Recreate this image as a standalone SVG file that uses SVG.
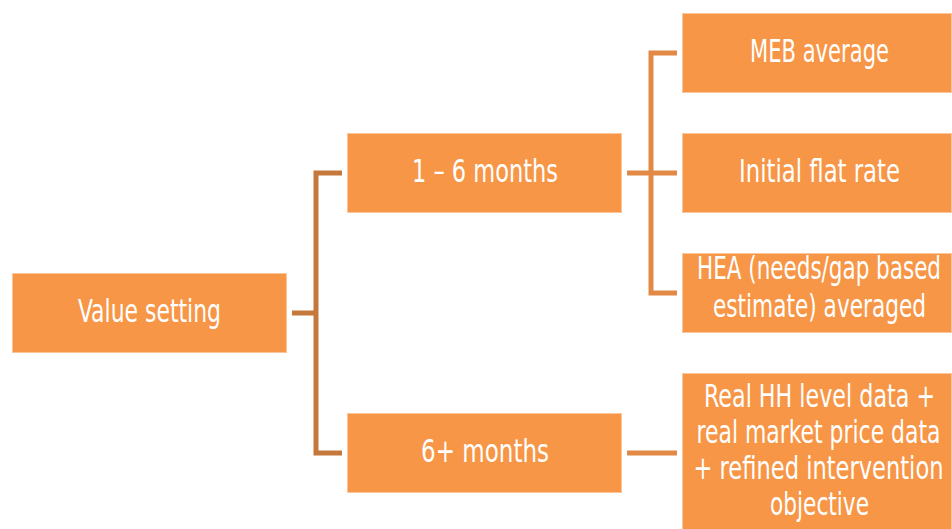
<svg xmlns="http://www.w3.org/2000/svg" width="952" height="529" viewBox="0 0 952 529">
<style>
.box{fill:#F79646;stroke:#FBC59A;stroke-width:1}
.t{fill:#ffffff;font-family:"DejaVu Sans Condensed","Liberation Sans Narrow","Liberation Sans",sans-serif;font-size:24px;text-anchor:middle}
.c1{fill:none;stroke:#C5783C;stroke-width:5}
.c2{fill:none;stroke:#E28A45;stroke-width:5}
</style>
<rect width="952" height="529" fill="#ffffff"/>
<g id="connectors">
<path class="c1" d="M292,313 H316 M342,173 H316 V453 H342"/>
<path class="c2" d="M627,173 H677 M677,53 H651 V293 H677"/>
<path class="c2" d="M627,453 H677"/>
</g>
<g id="value-setting">
<rect class="box" x="12.5" y="273.5" width="274" height="79"/>
<text class="t" transform="translate(149.5 322) scale(1 1.3)" textLength="143" lengthAdjust="spacingAndGlyphs">Value setting</text>
</g>
<g id="months-1-6">
<rect class="box" x="347.5" y="133.5" width="274" height="79"/>
<text class="t" transform="translate(485 182) scale(1 1.3)" textLength="146" lengthAdjust="spacingAndGlyphs">1 – 6 months</text>
</g>
<g id="months-6-plus">
<rect class="box" x="347.5" y="413.5" width="274" height="79"/>
<text class="t" transform="translate(485 462) scale(1 1.3)" textLength="128" lengthAdjust="spacingAndGlyphs">6+ months</text>
</g>
<g id="meb-average">
<rect class="box" x="682.5" y="13.5" width="269" height="79"/>
<text class="t" transform="translate(819.5 62) scale(1 1.3)" textLength="139" lengthAdjust="spacingAndGlyphs">MEB average</text>
</g>
<g id="initial-flat-rate">
<rect class="box" x="682.5" y="133.5" width="269" height="79"/>
<text class="t" transform="translate(819.5 182) scale(1 1.3)" textLength="161" lengthAdjust="spacingAndGlyphs">Initial flat rate</text>
</g>
<g id="hea">
<rect class="box" x="682.5" y="253.5" width="269" height="79"/>
<text class="t" transform="translate(819 279) scale(1 1.3)" textLength="244" lengthAdjust="spacingAndGlyphs">HEA (needs/gap based</text>
<text class="t" transform="translate(819.5 317) scale(1 1.3)" textLength="213" lengthAdjust="spacingAndGlyphs">estimate) averaged</text>
</g>
<g id="real-data">
<rect class="box" x="682.5" y="373.5" width="269" height="160"/>
<text class="t" transform="translate(819.5 407) scale(1 1.3)" textLength="231" lengthAdjust="spacingAndGlyphs">Real HH level data +</text>
<text class="t" transform="translate(818.5 443) scale(1 1.3)" textLength="244" lengthAdjust="spacingAndGlyphs">real market price data</text>
<text class="t" transform="translate(818.5 479) scale(1 1.3)" textLength="250" lengthAdjust="spacingAndGlyphs">+ refined intervention</text>
<text class="t" transform="translate(819.5 515) scale(1 1.3)" textLength="99" lengthAdjust="spacingAndGlyphs">objective</text>
</g>
</svg>
